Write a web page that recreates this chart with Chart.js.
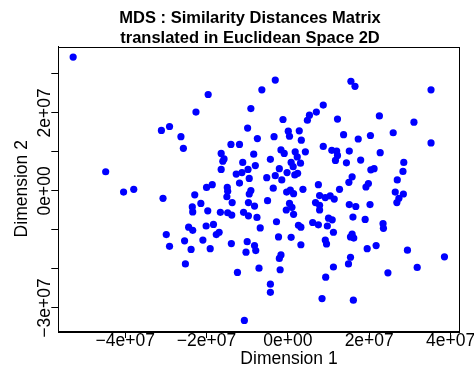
<!DOCTYPE html>
<html>
<head>
<meta charset="utf-8">
<script src="https://cdn.jsdelivr.net/npm/chart.js@4.4.1/dist/chart.umd.min.js"></script>
<style>
  html, body { margin: 0; padding: 0; background: #fff; }
  canvas { display: block; }
</style>
</head>
<body>
<canvas id="mds" width="474" height="372"></canvas>
<script>
/* ================= DATA ================= */

// coordinates are in millions (scaled by UNIT below)
const UNIT = 1e6;

const dim1 = [
  -52.8, -31.1, -29.1, -26.3, -25.7, -44.8, -40.4, -37.9, -3.1, -6.4,
  -19.6, -22.6, -9.1, 8.7, 7.0, 5.3, 4.8, -1.2, -9.9, 0.1,
  0.4, 2.8, -3.4, 3.3, -7.5, -14.0, -11.9, 8.7, -1.7, -0.9,
  1.8, 4.3, -16.4, -8.4, -15.7, -16.0, 2.3, 3.1, 0.8, -4.3,
  -11.1, -8.0, -9.8, -16.4, 1.3, -2.1, -11.3, -12.7, 2.4, -0.2,
  1.7, -9.5, -3.1, -5.2, -1.5, -11.9, -20.0, -18.6, -14.9, -14.8,
  -9.1, -3.6, 0.6, -0.3, 1.4, 3.7, 7.5, -9.5, -22.9, -15.0,
  -21.4, -23.5, -23.4, -13.7, -9.7, -8.2, -5.0, -0.4, 0.4, 1.0,
  1.4, 6.8, 7.8, 7.8, 7.8, 9.2, 10.4, 11.4, -19.7, -16.6,
  -14.8, -13.8, -10.9, -9.7, -7.6, -2.8, -24.4, -23.4, -20.1, -18.3,
  -17.6, -16.9, -6.8, -2.3, 0.8, 2.6, 3.2, 6.1, 7.5, 9.7,
  -20.9, -23.8, -19.1, -13.9, -10.0, -10.3, -8.2, -7.9, 3.2, 9.2,
  9.5, -1.7, -2.1, -12.4, -7.1, -1.9, -4.3, -4.3, 9.3, 8.4,
  -10.7, -30.7, -29.9, -25.4, -29.1, -25.2, 15.5, 16.5, 35.2, 12.2,
  22.5, 31.0, 13.7, 17.3, 20.3, 25.9, 35.2, 10.8, 12.0, 12.2,
  15.1, 22.7, 11.7, 14.4, 17.9, 28.5, 20.4, 21.2, 28.3, 15.8,
  15.0, 26.9, 19.8, 19.2, 12.7, 26.4, 28.4, 27.3, 26.8, 15.1,
  16.7, 20.2, 16.0, 19.0, 10.0, 10.9, 11.2, 23.4, 23.5, 15.8,
  16.2, 15.4, 21.7, 19.5, 29.4, 38.5, 15.4, 14.9, 11.2, 31.8,
  24.6, 16.1
];

const dim2 = [
  34.3, 15.5, 16.5, 13.9, 10.9, 4.9, -0.3, 0.4, 28.4, 25.9,
  24.7, 20.2, 21.1, 22.0, 20.2, 19.4, 18.1, 18.3, 16.1, 15.3,
  14.0, 15.4, 13.9, 13.0, 13.4, 11.9, 11.9, 11.4, 10.5, 9.6,
  10.0, 10.0, 9.6, 9.4, 8.2, 7.6, 8.7, 7.1, 7.3, 8.1,
  7.3, 6.5, 5.5, 5.5, 6.2, 5.7, 4.7, 4.3, 4.5, 4.7,
  4.1, 3.2, 3.9, 3.4, 2.8, 2.0, 0.9, 1.6, 0.9, -0.1,
  0.1, 0.7, 0.2, -0.3, -0.7, 0.4, 1.6, -0.8, -1.0, -1.5,
  -3.2, -4.1, -5.4, -3.0, -3.0, -3.9, -2.5, -4.9, -3.2, -4.2,
  -6.0, -3.0, -3.7, -4.9, -1.2, -1.7, -1.3, -2.1, -5.1, -5.5,
  -5.6, -6.2, -5.5, -6.4, -6.8, -7.9, -9.3, -10.1, -9.0, -8.6,
  -11.2, -10.6, -9.5, -11.8, -11.9, -8.8, -9.3, -8.1, -8.7, -9.0,
  -12.6, -15.0, -14.8, -13.5, -13.0, -15.7, -14.0, -15.3, -13.8, -12.6,
  -13.6, -16.4, -17.3, -20.9, -19.8, -20.2, -23.9, -26.0, -22.1, -27.6,
  -33.2, -1.9, -11.2, -12.8, -14.2, -18.7, 28.1, 26.8, 25.9, 18.4,
  19.2, 17.6, 14.4, 13.3, 14.2, 14.9, 12.3, 10.4, 10.2, 9.1,
  10.2, 9.8, 7.8, 7.2, 7.9, 7.3, 5.4, 5.7, 5.0, 3.6,
  2.2, 2.8, 1.9, 1.0, 0.4, -0.3, -0.8, -1.9, -3.0, -3.5,
  -4.0, -3.5, -6.7, -7.3, -7.0, -7.4, -10.6, -8.4, -9.6, -11.1,
  -12.1, -11.8, -14.0, -14.8, -15.2, -16.9, -17.0, -18.7, -19.5, -19.6,
  -21.0, -28.0
];

const xTickValues = [-4e7, -2e7, 0, 2e7, 4e7];
const xTickLabels = ["\u22124e+07", "\u22122e+07", "0e+00", "2e+07", "4e+07"];
const yTickValues = [-3e7, -2e7, -1e7, 0, 1e7, 2e7, 3e7];
const yTickLabels = ["\u22123e+07", "", "", "0e+00", "", "2e+07", ""];

const mainTitle = ["MDS : Similarity Distances Matrix", "translated in Euclidean Space 2D"];
const xTitle = "Dimension 1";
const yTitle = "Dimension 2";

/* ================= HELPERS ================= */

// R style axis limits: data range extended by 4% on each side
function rRange(vals) {
  const lo = Math.min(...vals), hi = Math.max(...vals);
  const pad = (hi - lo) * 0.04;
  return [(lo - pad) * UNIT, (hi + pad) * UNIT];
}

const points = dim1.map((x, i) => ({ x: x * UNIT, y: dim2[i] * UNIT }));
const [xMin, xMax] = rRange(dim1);
const [yMin, yMax] = rRange(dim2);

const FONT = "'Liberation Sans', Arial, Helvetica, sans-serif";

/* ================= PLUGIN: box, labels, title ================= */

const rDecor = {
  id: "rDecor",
  afterDraw(chart) {
    const { ctx, chartArea: a } = chart;
    const ys = chart.scales.y;
    ctx.save();

    // box around plot
    ctx.strokeStyle = "#000";
    ctx.lineWidth = 1;
    ctx.strokeRect(Math.round(a.left) + 0.5, Math.round(a.top) + 0.5,
      Math.round(a.right - a.left), Math.round(a.bottom - a.top));

    // y tick labels, parallel to axis
    ctx.fillStyle = "#000";
    ctx.font = "17.5px " + FONT;
    ctx.textAlign = "center";
    ctx.textBaseline = "middle";
    yTickValues.forEach((v, i) => {
      if (!yTickLabels[i]) return;
      ctx.save();
      ctx.translate(45, ys.getPixelForValue(v));
      ctx.rotate(-Math.PI / 2);
      ctx.fillText(yTickLabels[i], 0, 0);
      ctx.restore();
    });

    // x axis title
    ctx.fillText(xTitle, 289, 359);

    // main title
    ctx.font = "bold 16.5px " + FONT;
    ctx.textBaseline = "alphabetic";
    ctx.fillText(mainTitle[0], 250, 23);
    ctx.fillText(mainTitle[1], 250, 43);

    ctx.restore();
  }
};

/* ================= CHART ================= */

Chart.defaults.color = "#000";
Chart.defaults.font.family = FONT;

new Chart(document.getElementById("mds"), {
  type: "scatter",
  data: {
    datasets: [{
      data: points,
      backgroundColor: "#0000ff",
      borderWidth: 0,
      pointRadius: 3.6,
      pointHoverRadius: 3.6,
    }],
  },
  options: {
    responsive: false,
    animation: false,
    devicePixelRatio: 1,
    layout: { padding: { top: 46.5, right: 14.7, bottom: 0, left: 0 } },
    plugins: { legend: { display: false }, tooltip: { enabled: false }, title: { display: false } },
    scales: {
      x: {
        type: "linear",
        min: xMin,
        max: xMax,
        afterBuildTicks: s => { s.ticks = xTickValues.map(v => ({ value: v })); },
        afterFit: s => { s.height = 41; s.paddingLeft = 0; s.paddingRight = 0; },
        ticks: {
          autoSkip: false,
          maxRotation: 0,
          padding: -5.75,
          font: { size: 17.5, lineHeight: 1 },
          callback: v => xTickLabels[xTickValues.indexOf(v)],
        },
        grid: { drawOnChartArea: false, drawTicks: true, tickLength: 7, color: "#000" },
        border: { display: true, color: "#000" },
        title: { display: false },
      },
      y: {
        type: "linear",
        min: yMin,
        max: yMax,
        afterBuildTicks: s => { s.ticks = yTickValues.map(v => ({ value: v })); },
        afterFit: s => { s.width = 58.3; s.paddingTop = 0; s.paddingBottom = 0; },
        ticks: { display: false },
        grid: { drawOnChartArea: false, drawTicks: true, tickLength: 7, color: "#000" },
        border: { display: true, color: "#000" },
        title: { display: true, text: yTitle, font: { size: 17.5, lineHeight: 1.2 }, padding: { top: 11.5, bottom: 0 } },
      },
    },
  },
  plugins: [rDecor],
});
</script>
</body>
</html>
